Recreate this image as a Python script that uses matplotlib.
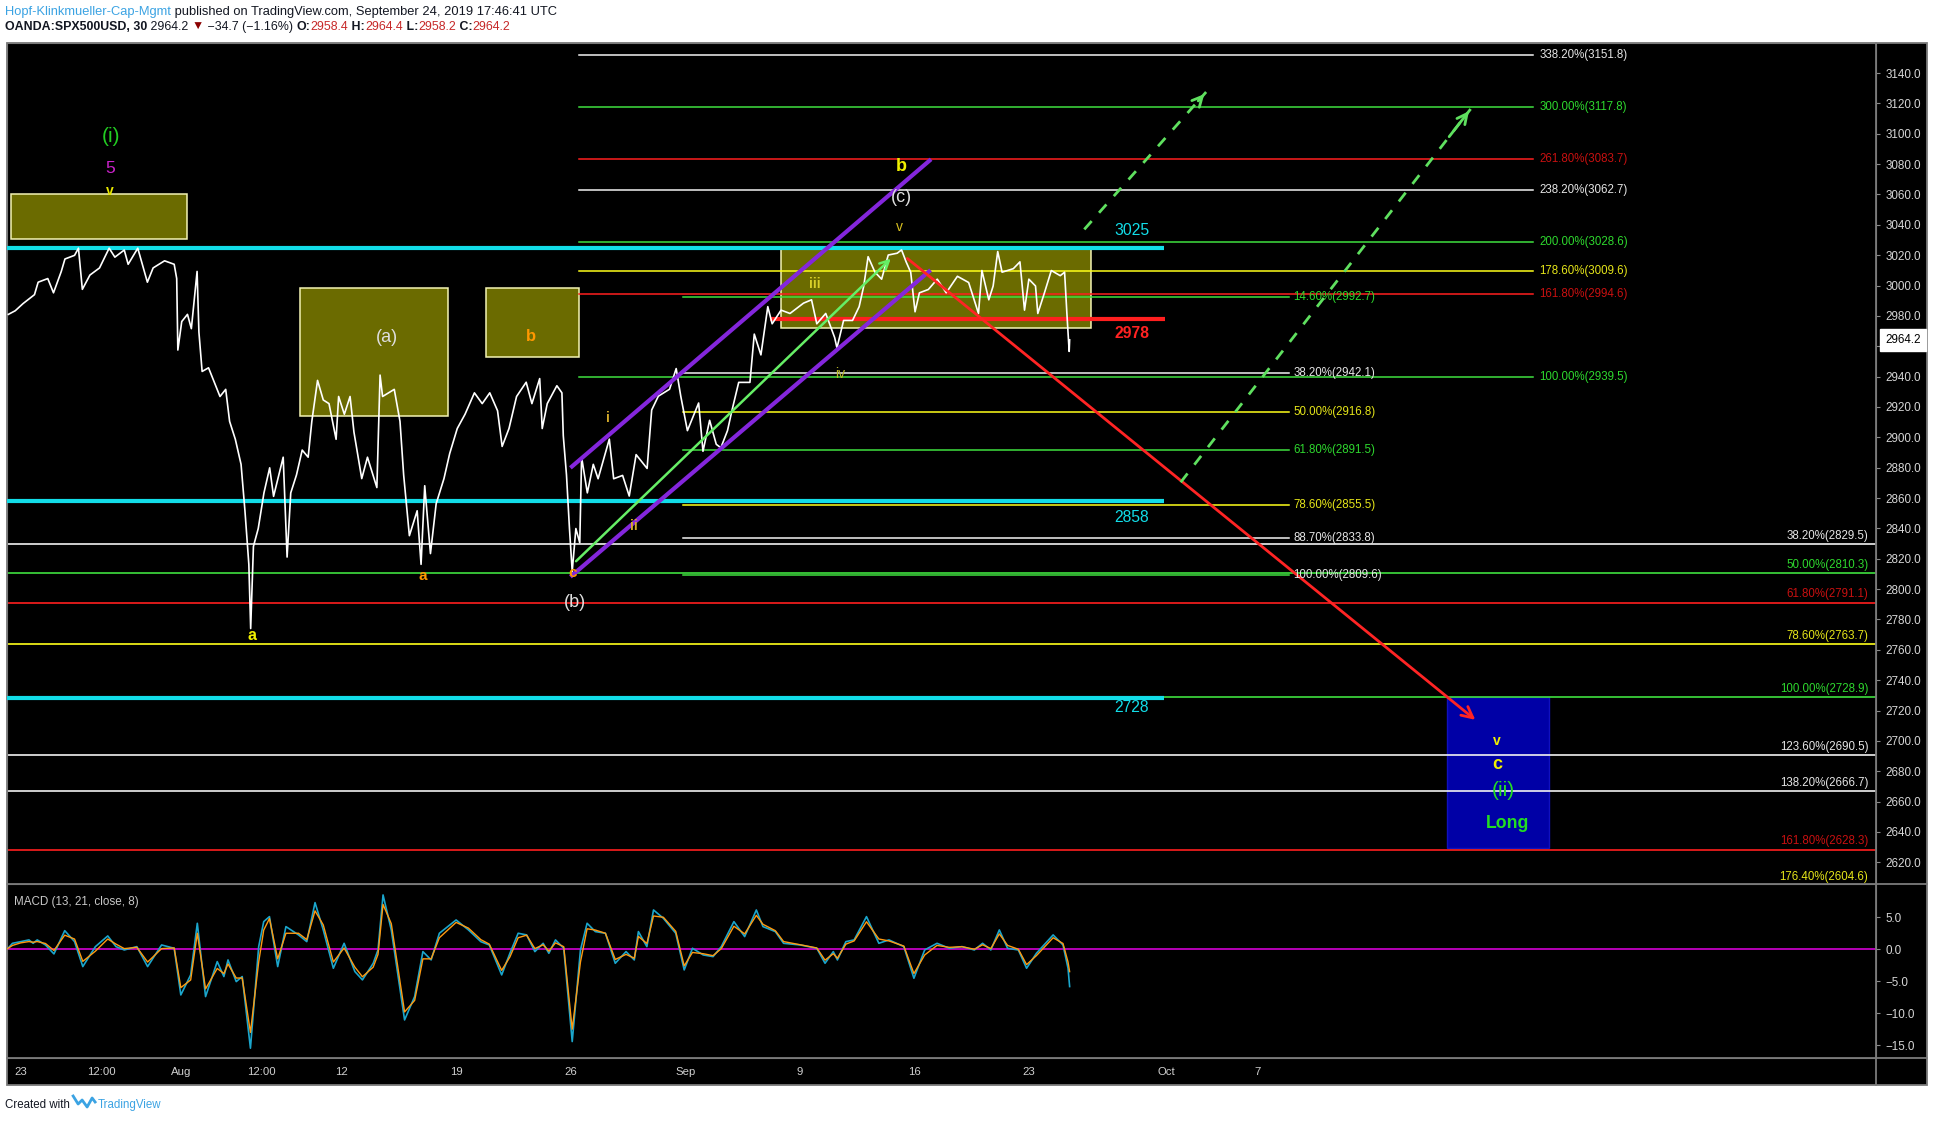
import matplotlib
matplotlib.use('Agg')
import matplotlib.pyplot as plt
from matplotlib.patches import Rectangle
from matplotlib.lines import Line2D

plt.rcParams['font.family'] = ['Liberation Sans', 'DejaVu Sans']

W, H = 1934, 1122

# ---------------- data (x = trading-day index, 0 = Mon 22 Jul 2019) ----------------
price_points = [
    (0.45, 2981.0), (0.75, 2983.4), (1.09, 2988.1), (1.59, 2994.0), (1.75, 3002.2),
    (2.17, 3004.6), (2.42, 2995.2), (2.76, 3009.3), (2.92, 3017.5), (3.34, 3019.9),
    (3.51, 3024.6), (3.68, 2997.5), (4.01, 3006.9), (4.43, 3011.6), (4.85, 3024.6),
    (5.10, 3018.7), (5.51, 3023.4), (5.68, 3014.0), (6.10, 3024.6), (6.52, 3002.2),
    (6.77, 3011.6), (7.27, 3016.3), (7.69, 3014.0), (7.80, 3004.6), (7.85, 2957.5),
    (8.02, 2976.3), (8.27, 2981.0), (8.44, 2971.6), (8.69, 3009.3), (8.77, 2969.3),
    (8.91, 2943.4), (9.19, 2945.8), (9.44, 2936.3), (9.69, 2926.9), (9.94, 2931.6),
    (10.11, 2910.5), (10.36, 2898.7), (10.61, 2882.2), (10.78, 2851.6), (10.95, 2816.3),
    (11.03, 2774.0), (11.15, 2828.1), (11.36, 2839.9), (11.61, 2863.4), (11.86, 2879.9),
    (12.03, 2861.1), (12.45, 2886.9), (12.62, 2821.1), (12.78, 2863.4), (13.03, 2875.2),
    (13.28, 2891.6), (13.54, 2886.9), (13.70, 2910.5), (13.95, 2937.5), (14.20, 2924.6),
    (14.45, 2922.2), (14.76, 2898.7), (14.87, 2926.9), (15.12, 2915.2), (15.37, 2926.9),
    (15.54, 2903.4), (15.88, 2872.8), (16.13, 2886.9), (16.54, 2866.9), (16.68, 2941.0),
    (16.79, 2926.9), (17.30, 2931.6), (17.55, 2910.5), (17.71, 2875.2), (17.96, 2835.2),
    (18.30, 2851.6), (18.47, 2816.3), (18.63, 2868.1), (18.88, 2823.4), (19.13, 2856.3),
    (19.47, 2872.8), (19.72, 2889.3), (20.05, 2905.8), (20.39, 2915.2), (20.80, 2929.3),
    (21.14, 2922.2), (21.47, 2929.3), (21.81, 2917.5), (22.01, 2894.0), (22.31, 2905.8),
    (22.64, 2926.9), (23.06, 2936.3), (23.31, 2922.2), (23.65, 2938.7), (23.76, 2905.8),
    (23.98, 2922.2), (24.40, 2934.0), (24.62, 2929.3), (24.68, 2901.1), (24.82, 2875.2),
    (24.95, 2839.9), (25.07, 2811.6), (25.23, 2839.9), (25.40, 2830.5), (25.48, 2886.9),
    (25.73, 2863.4), (25.99, 2882.2), (26.20, 2872.7), (26.69, 2898.8), (26.88, 2872.7),
    (27.27, 2874.9), (27.56, 2861.3), (27.86, 2888.6), (28.34, 2879.5), (28.54, 2918.0),
    (28.83, 2927.1), (29.32, 2931.7), (29.61, 2945.3), (29.81, 2927.1), (30.10, 2904.4),
    (30.59, 2922.6), (30.78, 2890.8), (31.07, 2911.2), (31.36, 2895.4), (31.56, 2893.1),
    (31.85, 2904.4), (32.05, 2918.0), (32.34, 2936.2), (32.83, 2936.2), (33.02, 2968.0),
    (33.31, 2954.3), (33.61, 2986.1), (33.80, 2974.8), (34.19, 2983.8), (34.58, 2981.6),
    (35.17, 2988.4), (35.52, 2990.6), (35.75, 2974.8), (36.14, 2981.6), (36.53, 2965.7),
    (36.63, 2958.9), (36.92, 2977.0), (37.31, 2977.0), (37.60, 2986.1), (37.80, 2999.7),
    (37.99, 3019.0), (38.29, 3008.8), (38.58, 3004.2), (38.87, 3020.1), (39.26, 3021.3),
    (39.45, 3023.5), (39.65, 3015.6), (39.85, 3008.8), (40.04, 2982.7), (40.23, 2995.2),
    (40.62, 2997.4), (41.01, 3004.2), (41.40, 2995.2), (41.89, 3006.1), (42.38, 3002.0),
    (42.81, 2981.6), (42.96, 3009.9), (43.26, 2990.6), (43.45, 2999.7), (43.65, 3022.4),
    (43.84, 3008.8), (44.33, 3011.1), (44.62, 3015.6), (44.82, 2983.8), (45.01, 3004.2),
    (45.30, 2999.7), (45.40, 2981.6), (45.69, 2995.2), (45.99, 3009.9), (46.38, 3006.5),
    (46.57, 3008.8), (46.67, 2981.6), (46.77, 2956.6), (46.79, 2964.2),
]
last_price = 2964.2

# (day, macd, signal)
macd_points = [
    (0.37, -0.11, 0.0), (0.63, 0.93, 0.6), (0.99, 1.19, 1.0), (1.35, 1.46, 1.2), (1.53, 0.93, 1.1),
    (1.71, 1.46, 1.2), (2.07, 0.67, 0.9), (2.44, -0.73, -0.2), (2.91, 2.91, 2.2), (3.34, 1.19, 1.6),
    (3.70, -2.71, -1.9), (4.25, 0.41, -0.3), (4.79, 2.08, 1.6), (5.15, 0.41, 0.8), (5.51, -0.11, 0.1),
    (6.06, 0.41, 0.3), (6.53, -2.71, -2.0), (7.14, 0.67, 0.1), (7.69, 0.15, 0.2), (7.98, -7.14, -6.0),
    (8.41, -4.01, -4.8), (8.70, 4.06, 2.5), (9.06, -7.40, -6.2), (9.57, -1.93, -3.0), (9.86, -4.27, -3.8),
    (10.04, -1.67, -2.3), (10.40, -5.06, -4.5), (10.66, -4.27, -4.5), (11.02, -15.47, -13.0), (11.38, 0.41, -2.0),
    (11.60, 4.32, 3.0), (11.85, 5.10, 4.8), (12.21, -2.71, -1.5), (12.57, 3.54, 2.5), (13.12, 2.24, 2.5),
    (13.48, 1.19, 1.5), (13.84, 7.29, 6.0), (14.20, 3.02, 3.8), (14.64, -2.97, -2.0), (15.11, 0.93, 0.2),
    (15.58, -3.49, -2.8), (15.91, -4.79, -4.3), (16.38, -2.19, -2.8), (16.59, -0.11, -0.8), (16.81, 8.49, 7.0),
    (17.17, 3.02, 4.0), (17.75, -11.05, -9.8), (18.19, -7.40, -8.0), (18.55, -0.37, -1.5), (18.91, -1.67, -1.5),
    (19.27, 2.50, 1.8), (20.00, 4.58, 4.2), (20.54, 3.02, 3.3), (21.08, 1.19, 1.5), (21.45, 0.67, 0.8),
    (21.99, -4.01, -3.3), (22.35, -0.63, -1.2), (22.71, 2.50, 1.8), (23.08, 2.24, 2.2), (23.44, -0.37, 0.1),
    (23.80, 0.93, 0.7), (24.05, -0.63, -0.3), (24.34, 1.46, 1.0), (24.70, 0.15, 0.4), (25.07, -14.43, -12.5),
    (25.43, -0.11, -2.0), (25.72, 4.06, 3.2), (26.08, 2.76, 3.0), (26.52, 2.50, 2.5), (26.95, -2.19, -1.6),
    (27.42, -0.37, -0.8), (27.78, -1.67, -1.4), (27.96, 2.76, 2.0), (28.33, 0.41, 0.9), (28.62, 6.14, 5.2),
    (29.05, 4.84, 5.0), (29.59, 2.50, 2.8), (29.96, -3.23, -2.6), (30.32, 0.15, -0.5), (30.79, -0.89, -0.7),
    (31.22, -1.15, -1.0), (31.58, 0.41, 0.1), (32.13, 4.32, 3.6), (32.60, 1.98, 2.4), (33.11, 6.14, 5.3),
    (33.40, 3.54, 3.9), (33.94, 2.76, 2.9), (34.30, 0.93, 1.2), (35.03, 0.67, 0.7), (35.75, 0.15, 0.2),
    (36.11, -2.19, -1.7), (36.47, -0.37, -0.7), (36.65, -1.67, -1.4), (37.02, 1.19, 0.8), (37.38, 1.46, 1.3),
    (37.92, 5.10, 4.3), (38.46, 0.93, 1.6), (38.90, 1.46, 1.3), (39.55, 0.41, 0.5), (39.99, -4.53, -3.8),
    (40.46, -0.11, -0.9), (41.00, 0.93, 0.6), (41.54, 0.15, 0.3), (42.09, 0.41, 0.4), (42.63, -0.11, 0.0),
    (42.99, 0.93, 0.7), (43.35, -0.11, 0.1), (43.72, 3.02, 2.4), (44.08, 0.15, 0.6), (44.55, -0.11, 0.0),
    (44.91, -2.97, -2.4), (45.34, -0.63, -1.0), (46.07, 2.24, 1.8), (46.50, 0.67, 0.9), (46.72, -2.97, -2.0),
    (46.79, -5.83, -3.5),
]

price_ticks = list(range(2620, 3141, 20))
macd_ticks = [5, 0, -5, -10, -15]
day_ticks = [1, 4.5, 8, 11.5, 15, 20, 25, 30, 35, 40, 45, 51, 55]
day_labels = ['23', '12:00', 'Aug', '12:00', '12', '19', '26', 'Sep', '9', '16', '23', 'Oct', '7']

# fibonacci levels
ext_pct = [338.2, 300.0, 261.8, 238.2, 200.0, 178.6, 161.8, 100.0]
ext_val = [3151.8, 3117.8, 3083.7, 3062.7, 3028.6, 3009.6, 2994.6, 2939.5]
retr_pct = [14.6, 38.2, 50.0, 61.8, 78.6, 88.7, 100.0]
retr_val = [2992.7, 2942.1, 2916.8, 2891.5, 2855.5, 2833.8, 2809.6]
down_pct = [38.2, 50.0, 61.8, 78.6, 100.0, 123.6, 138.2, 161.8, 176.4]
down_val = [2829.5, 2810.3, 2791.1, 2763.7, 2728.9, 2690.5, 2666.7, 2628.3, 2604.6]

key_levels = [3025, 2858, 2728]
break_level = 2978

# ---------------- styles ----------------
WHITE, GREEN, RED, YELLOW = '#f2f2f2', '#3fe03f', '#ff1f1f', '#ffff1a'
TXT = {'w': '#e6e6e6', 'g': '#2ed82e', 'r': '#c81010', 'y': '#e6e619'}
ext_col = ['w', 'g', 'r', 'w', 'g', 'y', 'r', 'g']
retr_col = ['g', 'w', 'y', 'g', 'y', 'w', 'g']
retr_txt = ['g', 'w', 'y', 'g', 'y', 'w', 'w']
down_col = ['w', 'g', 'r', 'y', 'g', 'w', 'w', 'r', 'y']
LINE = {'w': WHITE, 'g': GREEN, 'r': RED, 'y': YELLOW}
CYAN = '#12dde8'
OLIVE = '#6b6b00'
FIB_FS = 8.3


def fx(px):
    return px / W


def fy(py):
    return 1 - py / H


fig = plt.figure(figsize=(W / 100, H / 100), dpi=100)
fig.patch.set_facecolor('white')

# chart frame
fig.add_artist(Rectangle((fx(7), fy(1085)), fx(1927) - fx(7), fy(43) - fy(1085),
                         facecolor='black', edgecolor='#7a7a7a', lw=1.3, zorder=0))

ax = fig.add_axes([fx(7), fy(884), fx(1876) - fx(7), fy(43) - fy(884)])
mx = fig.add_axes([fx(7), fy(1058), fx(1876) - fx(7), fy(884) - fy(1058)])

for a in (ax, mx):
    a.set_facecolor('black')
    a.set_xlim(0.39, 82.0)
    for s in a.spines.values():
        s.set_color('#7a7a7a')
    a.yaxis.tick_right()

ax.set_ylim(2605.7, 3159.8)
mx.set_ylim(-17.0, 10.2)

# the tick right under the last-price tag is covered by it, as on the chart
ax.set_yticks(price_ticks)
ax.set_yticklabels(['' if abs(v - last_price) < 10 else f'{v:.1f}' for v in price_ticks])
ax.tick_params(axis='y', colors='#8a8a8a', labelcolor='#d6d6d6', length=3, pad=4, labelsize=8.4)
ax.tick_params(axis='x', bottom=False, labelbottom=False)

mx.set_yticks(macd_ticks)
mx.set_yticklabels([f'{v:.1f}'.replace('-', '\u2212') for v in macd_ticks])
mx.tick_params(axis='y', colors='#8a8a8a', labelcolor='#d6d6d6', length=3, pad=4, labelsize=8.4)
mx.set_xticks(day_ticks)
mx.set_xticklabels(day_labels)
mx.tick_params(axis='x', length=0, pad=6.5, labelcolor='#d0d0d0', labelsize=8.2)

# ---------------- boxes ----------------
boxes = [(0.585, 8.24, 3030.4, 3060.6), (13.2, 19.64, 2913.8, 2998.7),
         (21.32, 25.35, 2952.8, 2998.2), (34.19, 47.74, 2971.8, 3025.1)]
for x0, x1, y0, y1 in boxes:
    ax.add_patch(Rectangle((x0, y0), x1 - x0, y1 - y0, facecolor=OLIVE,
                           edgecolor='#f4f4b4', lw=1.1, zorder=1))
ax.add_patch(Rectangle((63.27, 2629.7), 67.73 - 63.27, 2729.1 - 2629.7,
                       facecolor='#0000a6', edgecolor='#1010c0', lw=1, zorder=1))

# ---------------- fib levels ----------------
for pct, v, c in zip(ext_pct, ext_val, ext_col):
    ax.plot([25.38, 67.03], [v, v], color=LINE[c], lw=1.1, zorder=2)
    ax.text(67.29, v, f'{pct:.2f}%({v:.1f})', color=TXT[c], fontsize=FIB_FS,
            va='center', ha='left', zorder=6)

for pct, v, c, tc in zip(retr_pct, retr_val, retr_col, retr_txt):
    ax.plot([29.9, 56.37], [v, v], color=LINE[c], lw=1.1, zorder=2)
    ax.text(56.55, v, f'{pct:.2f}%({v:.1f})', color=TXT[tc], fontsize=FIB_FS,
            va='center', ha='left', zorder=6)

for pct, v, c in zip(down_pct, down_val, down_col):
    ax.plot([0.39, 81.96], [v, v], color=LINE[c], lw=1.2, zorder=2)
    ax.text(81.66, v + 1.5, f'{pct:.2f}%({v:.1f})', color=TXT[c], fontsize=FIB_FS,
            va='bottom', ha='right', zorder=6)

# key levels
for v in key_levels:
    ax.plot([0.39, 50.9], [v, v], color=CYAN, lw=3.0, zorder=3, solid_capstyle='butt')
for v, yl in zip(key_levels, [3036.2, 2846.9, 2721.7]):
    ax.text(49.5, yl, str(v), color=CYAN, fontsize=11.3, ha='center', va='center', zorder=6)
ax.plot([33.71, 50.96], [break_level, break_level], color=RED, lw=3.0, zorder=3,
        solid_capstyle='butt')
ax.text(49.5, 2968.7, str(break_level), color='#ff2222', fontsize=11.3, fontweight='bold',
        ha='center', va='center', zorder=6)

# ---------------- price ----------------
pd_, pv_ = zip(*price_points)
ax.plot(pd_, pv_, color='white', lw=1.2, zorder=4)

# ---------------- drawings ----------------
PURPLE = '#8426dc'
ax.plot([24.99, 40.74], [2879.9, 3083.2], color=PURPLE, lw=3.0, zorder=5, solid_capstyle='butt')
ax.plot([24.99, 40.72], [2808.1, 3010.2], color=PURPLE, lw=3.0, zorder=5, solid_capstyle='butt')
ax.annotate('', xy=(39.07, 3019.0), xytext=(25.15, 2817.1), zorder=5,
            arrowprops=dict(arrowstyle='->', color='#66ee66', lw=1.8, mutation_scale=16))
ax.annotate('', xy=(64.6, 2712.7), xytext=(39.61, 3019.0), zorder=5,
            arrowprops=dict(arrowstyle='->', color='#ff2424', lw=2.0, mutation_scale=20))

DASH = '#5fe05f'
for (x0, y0), (x1, y1) in [((47.43, 3037.0), (52.75, 3127.5)), ((51.64, 2870.4), (64.3, 3116.3))]:
    ax.plot([x0, x1], [y0, y1], color=DASH, lw=2.0, ls=(0, (4, 4)), zorder=5)
    xm, ym = x1 - (x1 - x0) * 0.08, y1 - (y1 - y0) * 0.08
    ax.annotate('', xy=(x1, y1), xytext=(xm, ym), zorder=5,
                arrowprops=dict(arrowstyle='->', color=DASH, lw=2.0, mutation_scale=18))

# ---------------- wave labels ----------------
wave_labels = [
    ('(i)', 4.93, 3098.0, '#22cc22', 15, 'normal'),
    ('5', 4.88, 3077.0, '#cc22cc', 12.5, 'normal'),
    ('v', 4.88, 3062.2, '#e8e800', 10, 'bold'),
    ('(a)', 16.96, 2965.8, '#dedede', 13, 'normal'),
    ('b', 23.26, 2966.2, '#ff9800', 12, 'bold'),
    ('a', 11.08, 2769.3, '#f0f000', 11.5, 'bold'),
    ('a', 18.53, 2808.6, '#ff9800', 11, 'bold'),
    ('c', 25.08, 2810.5, '#ff9800', 11, 'bold'),
    ('(b)', 25.2, 2791.2, '#dedede', 13, 'normal'),
    ('i', 26.65, 2912.4, '#d4aa2a', 10, 'bold'),
    ('ii', 27.76, 2841.4, '#d4aa2a', 10, 'bold'),
    ('iii', 35.65, 3000.9, '#d8d028', 10, 'bold'),
    ('iv', 36.76, 2941.8, '#b8b828', 10, 'normal'),
    ('v', 39.37, 3038.7, '#d8c020', 10, 'normal'),
    ('b', 39.42, 3078.7, '#f0f000', 13, 'bold'),
    ('(c)', 39.45, 3058.0, '#dedede', 13, 'normal'),
    ('v', 65.44, 2700.0, '#f0f000', 10, 'bold'),
    ('c', 65.48, 2684.6, '#f0f000', 13, 'bold'),
    ('(ii)', 65.73, 2667.0, '#22dd22', 15, 'normal'),
    ('Long', 65.92, 2645.7, '#22dd22', 12.7, 'bold'),
]
for s, x, y, c, sz, wt in wave_labels:
    ax.text(x, y, s, color=c, fontsize=sz, fontweight=wt, ha='center', va='center', zorder=7)

# current price tag
ax.annotate(f'{last_price:.1f}', xy=(1, last_price), xycoords=('axes fraction', 'data'),
            xytext=(7, 0), textcoords='offset points', va='center', ha='left', fontsize=8.4,
            color='black', annotation_clip=False, zorder=10,
            bbox=dict(boxstyle='square,pad=0.45', fc='white', ec='white'))

# ---------------- MACD ----------------
md, mv, sv = zip(*macd_points)
mx.axhline(0, color='#d400d4', lw=1.2, zorder=1)
mx.plot(md, mv, color='#1ba6cc', lw=1.2, zorder=2)
mx.plot(md, sv, color='#ff9a10', lw=1.0, zorder=3)
fig.text(fx(14), fy(902), 'MACD (13, 21, close, 8)', color='#c8c8c8', fontsize=8.4, va='center')

# frame separators
for xs, ys in [((1876, 1876), (43, 1085)), ((7, 1927), (884, 884)), ((7, 1927), (1058, 1058))]:
    fig.add_artist(Line2D([fx(xs[0]), fx(xs[1])], [fy(ys[0]), fy(ys[1])],
                          color='#7a7a7a', lw=1.3, zorder=1))

# ---------------- header / footer ----------------
renderer = fig.canvas.get_renderer()


def write_run(x, y, parts, size=9):
    for s, col, wt in parts:
        t = fig.text(fx(x), fy(y), s, color=col, fontweight=wt, fontsize=size,
                     ha='left', va='center')
        x += t.get_window_extent(renderer).width
    return x


INK = '#131722'
DRED = '#c62828'
write_run(5, 12, [('Hopf-Klinkmueller-Cap-Mgmt', '#3ba3e3', 'normal'),
                  (' published on TradingView.com, September 24, 2019 17:46:41 UTC', INK, 'normal')],
          size=9.3)
write_run(5, 27, [('OANDA:SPX500USD, 30', INK, 'bold'), (' 2964.2 ', INK, 'normal'),
                  ('\u25bc', '#8b0000', 'normal'), (' \u221234.7 (\u22121.16%) ', INK, 'normal'),
                  ('O:', INK, 'bold'), ('2958.4', DRED, 'normal'),
                  (' H:', INK, 'bold'), ('2964.4', DRED, 'normal'),
                  (' L:', INK, 'bold'), ('2958.2', DRED, 'normal'),
                  (' C:', INK, 'bold'), ('2964.2', DRED, 'normal')], size=8.9)

xe = write_run(5, 1105, [('Created with ', INK, 'normal')], size=8.3)
logo_x = [0, 5, 9, 14, 19, 22]
logo_y = [10, 2, 6, -1, 8, 4]
fig.add_artist(Line2D([fx(xe + u) for u in logo_x], [fy(1105 + 1 - v) for v in logo_y],
                      color='#3ba3e3', lw=2.0))
write_run(xe + 25, 1105, [('TradingView', '#3ba3e3', 'normal')], size=8.3)

fig.savefig('out.png', dpi=100, facecolor=fig.get_facecolor())
